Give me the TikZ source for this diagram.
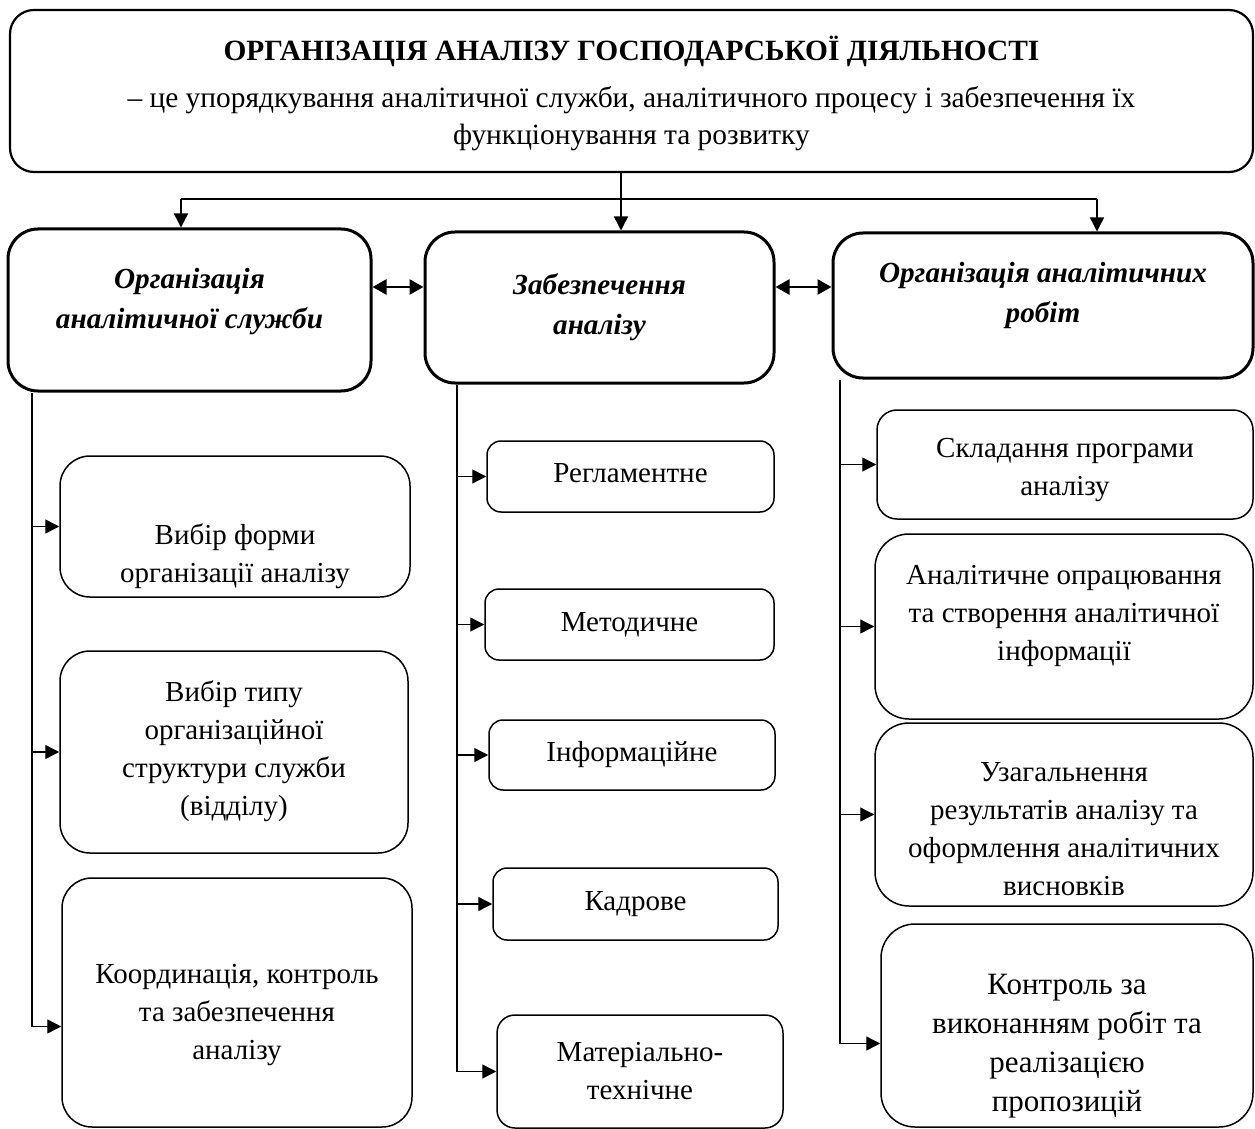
\documentclass[tikz,border=0pt]{standalone}
\usepackage{fontspec}
\setmainfont{Liberation Serif}
\usepackage{xcolor}
\usepackage{tikz}
\usetikzlibrary{calc,arrows.meta}
\definecolor{ink}{HTML}{000000}
\tikzset{
  topbox/.style={draw=ink, line width=1.1pt, rounded corners=12pt, inner sep=0pt},
  mainbox/.style={draw=ink, line width=1.5pt, rounded corners=15pt, inner sep=0pt},
  subbox/.style={draw=ink, line width=0.75pt, rounded corners=7pt, inner sep=0pt},
  toptxt/.style={align=center, inner sep=0pt, font=\fontsize{14.7}{18.5}\selectfont},
  headtxt/.style={align=center, inner sep=0pt, font=\fontsize{14.6}{20}\selectfont\bfseries\itshape},
  txt/.style={align=center, inner sep=0pt, font=\fontsize{14.5}{19}\selectfont},
  trunk/.style={draw=ink, line width=0.7pt},
  arr/.style={draw=ink, line width=0.7pt, -{Triangle[length=7pt,width=7pt]}},
  dblarr/.style={draw=ink, line width=1.35pt, {Triangle[length=7pt,width=7.5pt]}-{Triangle[length=7pt,width=7.5pt]}},
}

\begin{document}
\begin{tikzpicture}[x=0.5pt,y=-0.5pt]
  \useasboundingbox (0,0) rectangle (1255,1129);
  \node[topbox, minimum width=621.5pt, minimum height=81pt] (org) at (631.5,91) {};
  \node[toptxt] (orgt) at ([yshift=-1pt]org.center)
    {\textbf{ОРГАНІЗАЦІЯ АНАЛІЗУ ГОСПОДАРСЬКОЇ ДІЯЛЬНОСТІ}\\[5pt]
     – це упорядкування аналітичної служби, аналітичного процесу і забезпечення їх\\
     функціонування та розвитку};

  \node[mainbox, minimum width=181.5pt, minimum height=81pt] (serv) at (189.5,310) {};
  \node[mainbox, minimum width=174.5pt, minimum height=75.5pt] (supp) at (599.5,307.5) {};
  \node[mainbox, minimum width=210pt, minimum height=72.5pt] (work) at (1043,305.5) {};
  \node[headtxt] (servt) at ([yshift=4pt]serv.center) {Організація\\аналітичної служби};
  \node[headtxt] (suppt) at (supp.center) {Забезпечення\\аналізу};
  \node[headtxt] (workt) at ([yshift=5pt]work.center) {Організація аналітичних\\робіт};

  \node[subbox, rounded corners=15pt, minimum width=175pt, minimum height=70.5pt] (serv1) at (235,526.5) {};
  \node[subbox, rounded corners=15pt, minimum width=174pt, minimum height=101pt] (serv2) at (234,752) {};
  \node[subbox, rounded corners=15pt, minimum width=175pt, minimum height=124.5pt] (serv3) at (237,1002.5) {};
  \node[txt] (serv1t) at ([yshift=-15pt]serv1.center) {Вибір форми\\організації аналізу};
  \node[txt] (serv2t) at ([yshift=0.5pt]serv2.center) {Вибір типу\\організаційної\\структури служби\\(відділу)};
  \node[txt] (serv3t) at ([yshift=-6.5pt]serv3.center) {Координація, контроль\\та забезпечення\\аналізу};

  \node[subbox, minimum width=143.5pt, minimum height=35.5pt] (supp1) at (630.5,476.5) {};
  \node[subbox, minimum width=144.5pt, minimum height=35.5pt] (supp2) at (629.5,624.5) {};
  \node[subbox, minimum width=143pt, minimum height=35pt] (supp3) at (632,755) {};
  \node[subbox, minimum width=142.5pt, minimum height=36pt] (supp4) at (635.5,904) {};
  \node[subbox, rounded corners=9pt, minimum width=143pt, minimum height=56.5pt] (supp5) at (640,1071.5) {};
  \node[txt] (supp1t) at ([yshift=1.5pt]supp1.center) {Регламентне};
  \node[txt] (supp2t) at (supp2.center) {Методичне};
  \node[txt] (supp3t) at (supp3.center) {Інформаційне};
  \node[txt] (supp4t) at (supp4.center) {Кадрове};
  \node[txt] (supp5t) at (supp5.center) {Матеріально-\\технічне};

  \node[subbox, rounded corners=10pt, minimum width=188pt, minimum height=54.5pt] (work1) at (1065,464.5) {};
  \node[subbox, rounded corners=17pt, minimum width=189pt, minimum height=92.5pt] (work2) at (1064,626.5) {};
  \node[subbox, rounded corners=17pt, minimum width=189pt, minimum height=91.5pt] (work3) at (1064,814.5) {};
  \node[subbox, rounded corners=17pt, minimum width=186pt, minimum height=101.5pt] (work4) at (1067,1025.5) {};
  \node[txt] (work1t) at ([yshift=-3pt]work1.center) {Складання програми\\аналізу};
  \node[txt] (work2t) at ([yshift=5.5pt]work2.center) {Аналітичне опрацювання\\та створення аналітичної\\інформації};
  \node[txt] (work3t) at ([yshift=-7.5pt]work3.center) {Узагальнення\\результатів аналізу та\\оформлення аналітичних\\висновків};
  \node[txt, font=\fontsize{15.5}{19.5}\selectfont] (work4t) at ([yshift=-10.5pt]work4.center) {Контроль за\\виконанням робіт та\\реалізацією\\пропозицій};

  \coordinate (fk) at (621,199);
  \coordinate (fl) at (181,199);
  \coordinate (fr) at (1097,199);
  \draw[arr] (org.south -| fk) -- (supp.north -| fk);
  \draw[trunk] (fl) -- (fr);
  \draw[arr] (fl) -- (serv.north -| fl);
  \draw[arr] (fr) -- (work.north -| fr);

  \coordinate (hz) at (0,287);
  \draw[dblarr] (serv.east |- hz) -- (supp.west |- hz);
  \draw[dblarr] (supp.east |- hz) -- (work.west |- hz);

  \coordinate (tl) at (32,0);
  \coordinate (tm) at (457,0);
  \coordinate (tr) at (840,0);
  \coordinate (serv3in) at ([yshift=-12pt]serv3.west);
  \coordinate (work4in) at ([yshift=-9pt]work4.west);

  \draw[trunk] (serv.south -| tl) -- (serv3in -| tl);
  \draw[arr] (serv1.west -| tl) -- (serv1.west);
  \draw[arr] (serv2.west -| tl) -- (serv2.west);
  \draw[arr] (serv3in -| tl) -- (serv3in);

  \draw[trunk] (supp.south -| tm) -- (supp5.west -| tm);
  \draw[arr] (supp1.west -| tm) -- (supp1.west);
  \draw[arr] (supp2.west -| tm) -- (supp2.west);
  \draw[arr] (supp3.west -| tm) -- (supp3.west);
  \draw[arr] (supp4.west -| tm) -- (supp4.west);
  \draw[arr] (supp5.west -| tm) -- (supp5.west);

  \draw[trunk] (work.south -| tr) -- (work4in -| tr);
  \draw[arr] (work1.west -| tr) -- (work1.west);
  \draw[arr] (work2.west -| tr) -- (work2.west);
  \draw[arr] (work3.west -| tr) -- (work3.west);
  \draw[arr] (work4in -| tr) -- (work4in);
\end{tikzpicture}
\end{document}
